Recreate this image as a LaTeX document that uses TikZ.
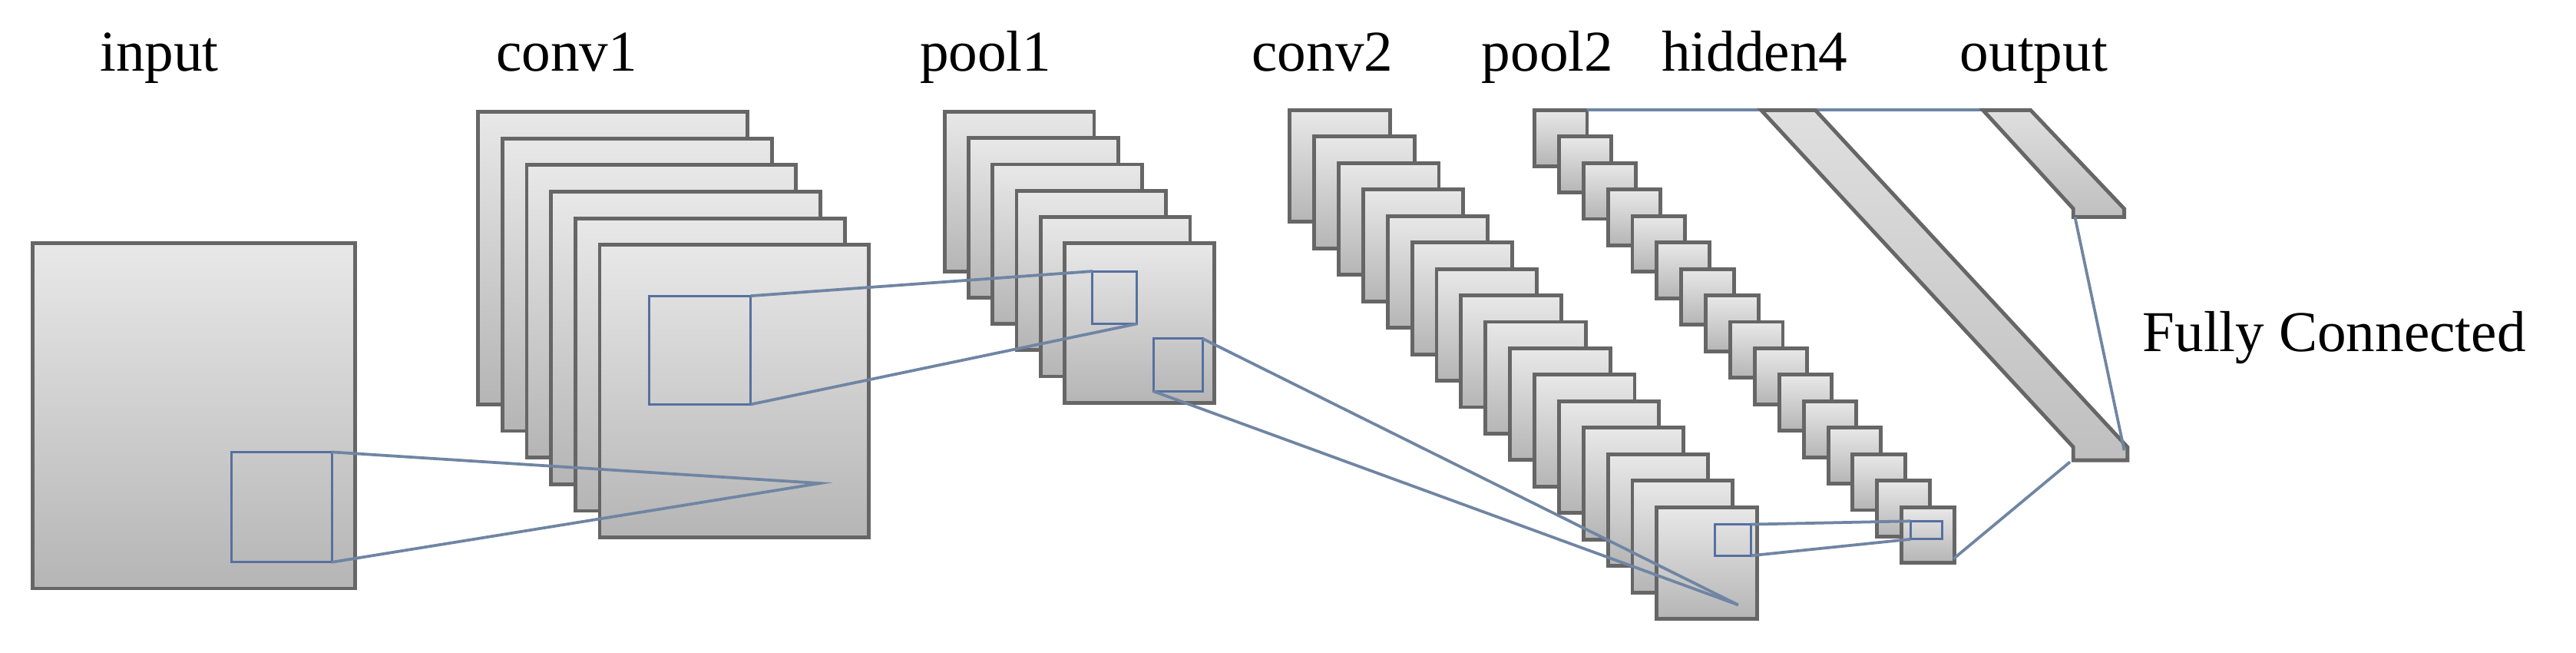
\documentclass[tikz,border=0pt]{standalone}
\usepackage{fontspec}
\setmainfont{Liberation Serif}
\definecolor{lnkc}{HTML}{6F85A3}
\definecolor{sqc}{HTML}{5670A0}
\begin{document}
\begin{tikzpicture}[x=0.02cm,y=-0.02cm,
  box/.style={top color=gray!18,bottom color=gray!58,draw=black!60,line width=1.3pt},
  lnk/.style={draw=lnkc,line width=1pt},
  sq/.style={draw=sqc,line width=0.8pt},
  lab/.style={font=\fontsize{20}{24}\selectfont,anchor=base}]
\useasboundingbox (0,0) rectangle (1568,397);
% labels
\node[lab] (tin) at (97,43) {input};
\node[lab] (tc1) at (345,43) {conv1};
\node[lab] (tp1) at (600,43) {pool1};
\node[lab] (tc2) at (805,43) {conv2};
\node[lab] (tp2) at (942,43) {pool2};
\node[lab] (th4) at (1068,43) {hidden4};
\node[lab] (tout) at (1238,43) {output};
\node[lab,anchor=base west] (tfc) at (1298,214) {Fully Connected};
% input
\path[box] (20,148) rectangle (216,358);
\draw[sq] (141,275) rectangle (202,342);
% conv1
\foreach \i in {0,...,5}
  \path[box] ({291+14.8*\i},{68+16.2*\i}) rectangle ++(164,178);
\draw[sq] (395,180) rectangle (457,246);
\coordinate (c1p) at (499,294);
\draw[lnk] (202,275) -- (c1p) -- (202,342);
% pool1
\foreach \i in {0,...,5}
  \path[box] ({575+14.6*\i},{68+16*\i}) rectangle ++(91,97);
\draw[sq] (665,165) rectangle (692,197);
\draw[sq] (702,206) rectangle (732,238);
\draw[lnk] (457,180) -- (665,165);
\draw[lnk] (457,246) -- (692,197);
% conv2
\foreach \i in {0,...,15}
  \path[box] ({785+14.9*\i},{67+16.1*\i}) rectangle ++(61,68);
\coordinate (c2p) at (1058,368);
\draw[lnk] (732,206) -- (c2p);
\draw[lnk] (702,238) -- (c2p);
\draw[sq] (1044,319) rectangle (1066,338);
% pool2
\foreach \i in {0,...,15}
  \path[box] ({934+14.9*\i},{67+16.1*\i}) rectangle ++(32,34);
\draw[sq] (1163,317) rectangle (1182,328);
\draw[lnk] (1066,319) -- (1163,317);
\draw[lnk] (1066,338) -- (1163,328);
% hidden4 and output
\draw[lnk] (966,67) -- (1207,67);
\path[box,top color=gray!25,bottom color=gray!50] (1072,67) -- (1105,67) -- (1295,272) -- (1295,280) -- (1262,280) -- (1262,272) -- cycle;
\path[box,top color=gray!25,bottom color=gray!50] (1207,67) -- (1236,67) -- (1293,127) -- (1293,132) -- (1262,132) -- (1262,127) -- cycle;
\draw[lnk] (1263,132) -- (1293,274);
\draw[lnk] (1260,281) -- (1189,340);
\end{tikzpicture}
\end{document}
